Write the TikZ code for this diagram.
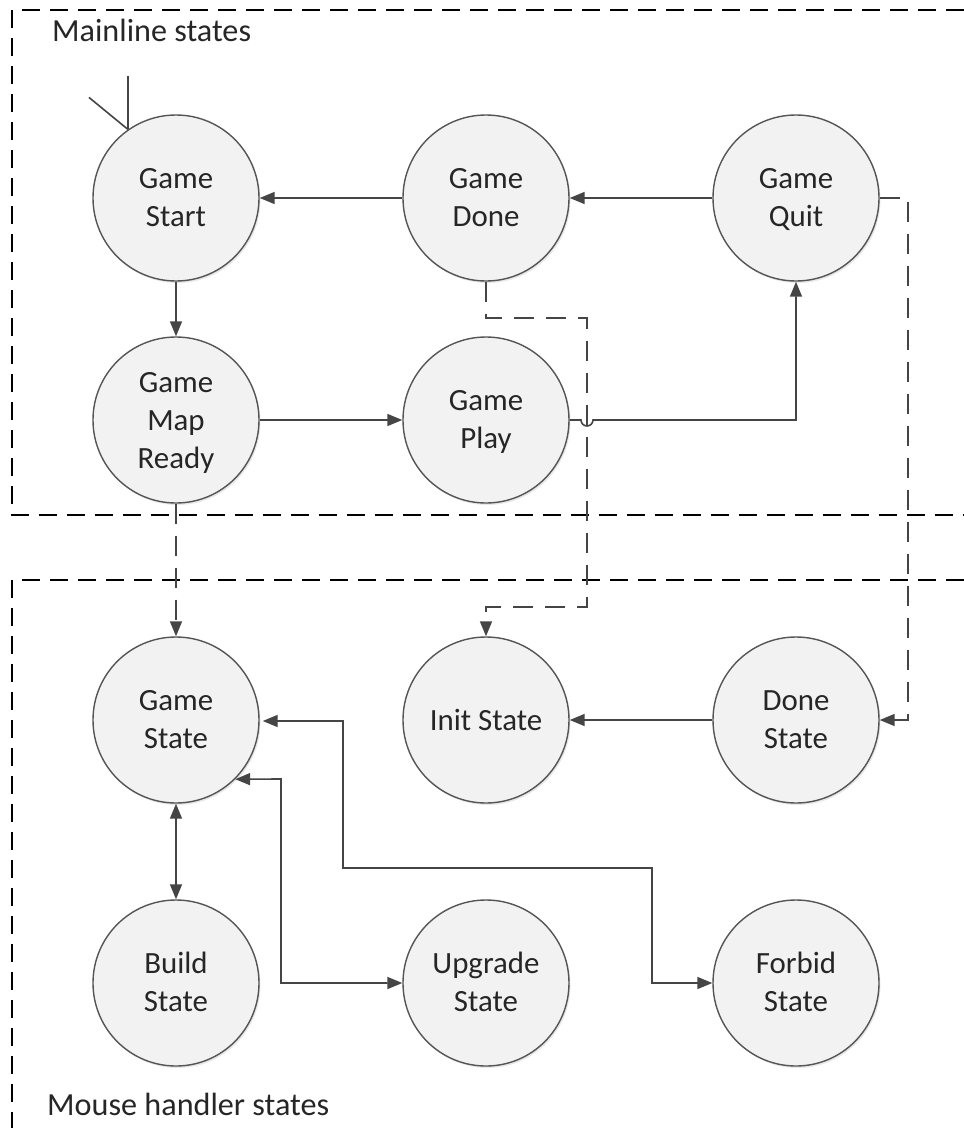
\documentclass[tikz,border=0pt]{standalone}
\usepackage{fontspec}
\setmainfont{Carlito}
\usetikzlibrary{arrows.meta,shadows,calc}
\definecolor{linec}{HTML}{454545}
\definecolor{circfill}{HTML}{F2F2F2}
\definecolor{circdraw}{HTML}{555555}
\tikzset{
  state/.style={circle, draw=circdraw, line width=1.4bp, fill=circfill,
    minimum size=166bp, inner sep=0pt, align=center,
    font=\fontsize{31}{38}\selectfont, text=black!85, text depth=0pt,
    text height=56bp,
    drop shadow={opacity=0.18, shadow xshift=1.5bp, shadow yshift=-2bp}},
  oneline/.style={text height=20bp},
  threeline/.style={text height=96bp},
  conn/.style={draw=linec, line width=1.6bp, -{Triangle[length=15bp,width=12bp]}},
  biconn/.style={draw=linec, line width=1.6bp, {Triangle[length=15bp,width=12bp]}-{Triangle[length=15bp,width=12bp]}},
  dconn/.style={conn, dash pattern=on 20bp off 12bp},
  boxline/.style={draw=black, line width=1.8bp, dash pattern=on 18bp off 10bp},
  lbl/.style={anchor=west, inner sep=0pt, font=\fontsize{32.3}{38}\selectfont, text=black!85}
}
\begin{document}
\begin{tikzpicture}[x=1bp,y=-1bp]
\useasboundingbox (0,0) rectangle (964,1128);
\fill[white] (0,0) rectangle (964,1128);

% group boxes
\draw[boxline] (964,10) -- (12,10) -- (12,515) -- (964,515);
\draw[boxline] (964,580) -- (12,580) -- (12,1128);
\node[lbl] (mainlbl) at (52,30) {Mainline states};
\node[lbl] (mouselbl) at (47,1104) {Mouse handler states};

% states
\node[state] (gs) at (176,198) {Game\\Start};
\node[state] (gd) at (486,198) {Game\\Done};
\node[state] (gq) at (796,198) {Game\\Quit};
\node[state, threeline] (gm) at (176,420) {Game\\Map\\Ready};
\node[state] (gp) at (486,420) {Game\\Play};
\node[state] (st) at (176,720) {Game\\State};
\node[state, oneline] (is) at (486,720) {Init State};
\node[state] (ds) at (796,720) {Done\\State};
\node[state] (bs) at (176,983) {Build\\State};
\node[state] (us) at (486,983) {Upgrade\\State};
\node[state] (fs) at (796,983) {Forbid\\State};

% initial mark
\draw[linec, line width=1.6bp] (gs.125) -- ++(0,-53);
\draw[linec, line width=1.6bp] (gs.125) -- ++(-39,-32);

% mainline transitions
\draw[conn] (gd.west) -- (gs.east);
\draw[conn] (gq.west) -- (gd.east);
\draw[conn] (gs.south) -- (gm.north);
\draw[conn] (gm.east) -- (gp.west);
\coordinate (hopA) at (581,420);
\draw[conn] (gp.east) -- (hopA) arc[start angle=180, end angle=360, radius=6bp]
  -- (gq.south |- gp.east) -- (gq.south);

% dashed cross-group transitions
\coordinate (d1) at (486,318);
\coordinate (d2) at (587,318);
\coordinate (d3) at (587,607);
\coordinate (d4) at (486,607);
\draw[dconn] (gd.south) -- (d1) -- (d2) -- (d3) -- (d4) -- (is.north);
\coordinate (q1) at (908,198);
\coordinate (q2) at (908,720);
\draw[dconn] (gq.east) -- (q1) -- (q2) -- (ds.east);
\draw[dconn] (gm.south) -- (st.north);

% mouse handler transitions
\draw[conn] (ds.west) -- (is.east);
\draw[biconn] (st.south) -- (bs.north);
\coordinate (f1) at (343,721);
\coordinate (f2) at (343,868);
\coordinate (f3) at (652,868);
\coordinate (f4) at (652,983);
\draw[biconn] ($(st.east)+(3,1)$) -- (f1) -- (f2) -- (f3) -- (f4) -- (fs.west);
\coordinate (u1) at (281,779);
\coordinate (u2) at (281,983);
\draw[biconn] (st.-45) -- (u1) -- (u2) -- (us.west);
\end{tikzpicture}
\end{document}
